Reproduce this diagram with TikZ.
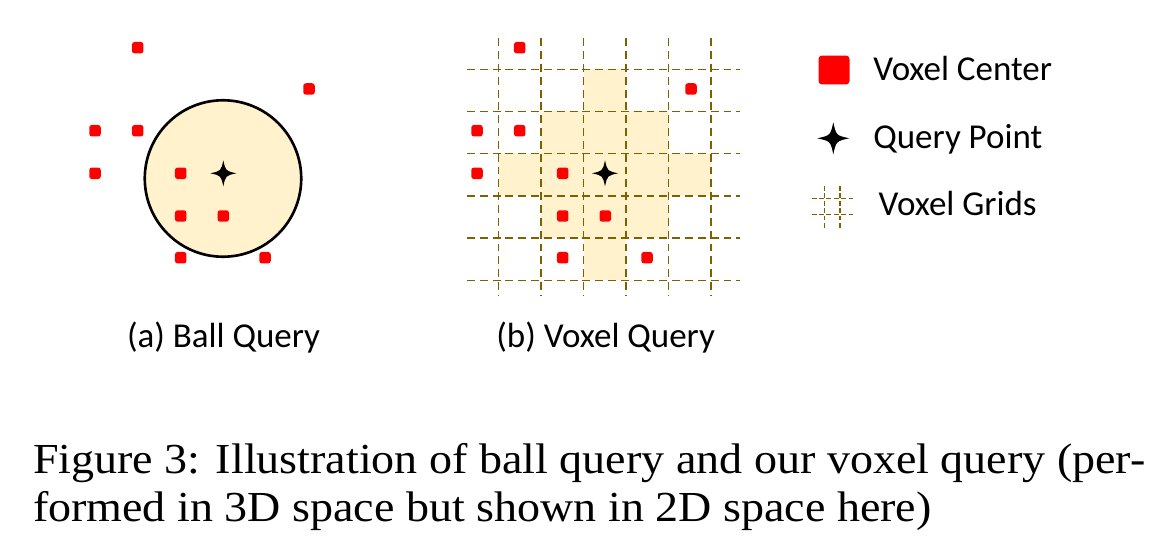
\documentclass[tikz,border=0pt]{standalone}
\usepackage{fontspec}
\setmainfont{Liberation Serif}
\newfontfamily\labelfont{Carlito}
\definecolor{ballfill}{HTML}{FFF2CC}
\definecolor{gridgold}{HTML}{7F6000}
\tikzset{querystar/.pic={
	\fill[black] (-1,0) .. controls (-0.18,-0.18) .. (0,-1)
	.. controls (0.18,-0.18) .. (1,0)
	.. controls (0.18,0.18) .. (0,1)
	.. controls (-0.18,0.18) .. (-1,0) -- cycle;
}}
\begin{document}
\begin{tikzpicture}[x=0.02cm, y=-0.02cm,
	voxelstyle/.style={rectangle, rounded corners=1.5pt, fill=red,
		inner sep=0pt, minimum size=0.23cm},
	gridstyle/.style={draw=gridgold, line width=0.85pt,
		dash pattern=on 4.5pt off 2.8pt},
	labelstyle/.style={font=\labelfont\fontsize{19.9}{24}\selectfont,
		anchor=base west, inner sep=0pt},
	captionstyle/.style={font=\fontsize{24.35}{28}\selectfont,
		anchor=base west, inner sep=0pt}]
	\def \gx {498.7}
	\def \gy {69.3}
	\def \dx {42.5}
	\def \dy {42.2}
	\def \shift {382}
	\useasboundingbox (0,0) rectangle (1149,547);

	% ball query
	\node(ball) [circle, draw=black, line width=1.5pt, fill=ballfill,
		inner sep=0pt, minimum size=3.13cm] at (223,178.5) {};

	% voxel query
	\foreach \c/\r in {2/0, 1/1, 2/1, 3/1, 0/2, 1/2, 2/2, 3/2, 4/2, 1/3, 2/3, 3/3, 2/4} {
		\fill[ballfill] ({\gx+\dx*\c},{\gy+\dy*\r}) rectangle ++(\dx,\dy);
	};
	\foreach \k in {0,...,5} {
		\draw[gridstyle] ({\gx+\dx*\k},38.3) -- ({\gx+\dx*\k},295);
		\draw[gridstyle] (467,{\gy+\dy*\k}) -- (740,{\gy+\dy*\k});
	};

	\foreach \px/\py [count=\i] in {137.7/47.7, 309/89, 95/130.7, 137.7/130.7, 95/173.3,
		180.7/173.3, 180.7/216, 223.3/216, 180.7/257.7, 265/257.7} {
		\node(a\i) [voxelstyle] at (\px,\py) {};
		\node(b\i) [voxelstyle] at ({\px+\shift},\py) {};
	};
	\pic[scale=13] (qa) at (223.3,173.3) {querystar};
	\pic[scale=13] (qb) at (605,173.3) {querystar};

	\node(la) [labelstyle] at (126.7,347.7) {(a) Ball Query};
	\node(lb) [labelstyle] at (496,347.7) {(b) Voxel Query};

	% legend
	\node(kc) [rectangle, rounded corners=2pt, fill=red, inner sep=0pt,
		minimum width=0.62cm, minimum height=0.58cm] at (834,70) {};
	\node(tc) [labelstyle] at (873,80.7) {Voxel Center};
	\pic[scale=16] (kq) at (833.3,138.3) {querystar};
	\node(tq) [labelstyle] at (873,148.3) {Query Point};
	\foreach \k in {824.3, 840} {
		\draw[draw=gridgold, line width=0.7pt, dash pattern=on 2.8pt off 1.4pt]
		(\k,186) -- (\k,228.3);
	};
	\foreach \k in {198.3, 214.3} {
		\draw[draw=gridgold, line width=0.7pt, dash pattern=on 2.8pt off 1.4pt]
		(811.7,\k) -- (853,\k);
	};
	\node(tg) [labelstyle] at (878.3,215) {Voxel Grids};

	% caption
	\node(cap1) [captionstyle] at (32.7,473.3)
		{\scalebox{1.076}[1]{Figure 3: Illustration of ball query and our voxel query (per-}};
	\node(cap2) [captionstyle] at (32.7,521.7)
		{\scalebox{1.076}[1]{formed in 3D space but shown in 2D space here)}};
\end{tikzpicture}
\end{document}
